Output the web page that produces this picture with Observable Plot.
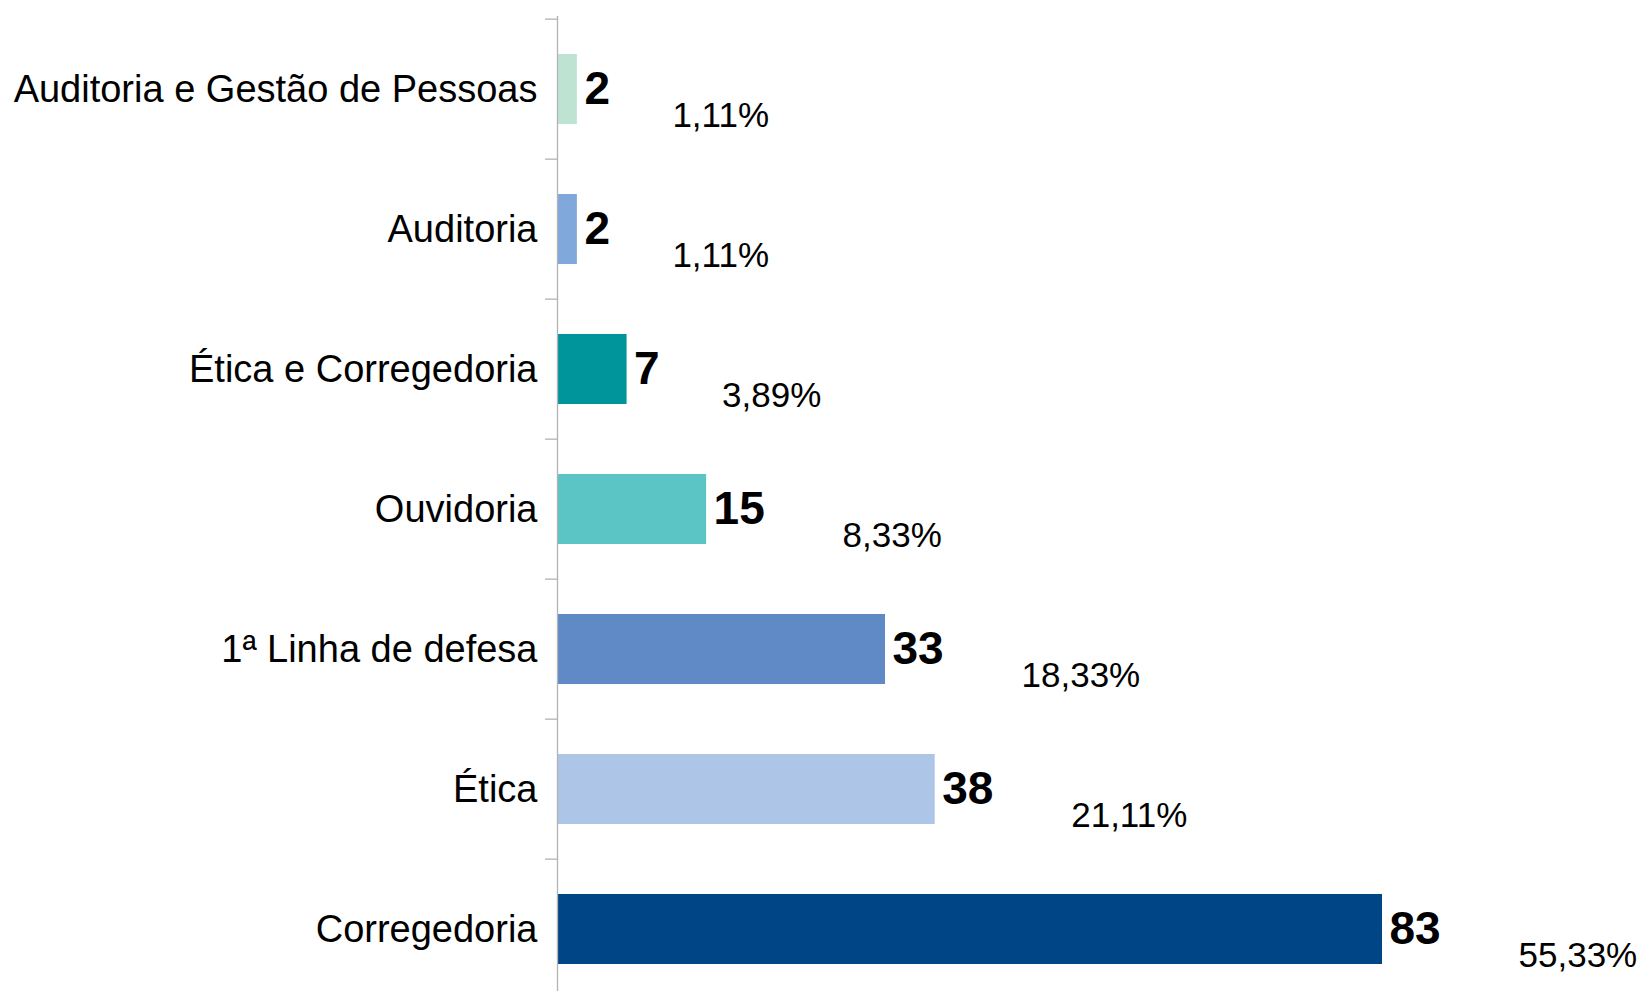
<!DOCTYPE html>
<html>
<head>
<meta charset="utf-8">
<script src="https://cdn.jsdelivr.net/npm/d3@7"></script>
<script src="https://cdn.jsdelivr.net/npm/@observablehq/plot@0.6"></script>
<style>
  html, body { margin: 0; padding: 0; background: #ffffff; overflow: hidden; }
  #chart svg { display: block; }
</style>
</head>
<body>
<div id="chart"></div>
<script>
const categories = [
  "Auditoria e Gestão de Pessoas",
  "Auditoria",
  "Ética e Corregedoria",
  "Ouvidoria",
  "1ª Linha de defesa",
  "Ética",
  "Corregedoria"
];
const values = [2, 2, 7, 15, 33, 38, 83];
const percents = ["1,11%", "1,11%", "3,89%", "8,33%", "18,33%", "21,11%", "55,33%"];
const colors = ["#bfe3d3", "#80a8da", "#00959a", "#5bc5c6", "#5f8ac6", "#adc5e7", "#004586"];

const data = categories.map((c, i) => ({category: c, value: values[i], pct: percents[i], color: colors[i]}));

const W = 1639, H = 991;
const yTop = 16, yBottom = 1001;
const step = (yBottom - yTop) / categories.length;

const plot = Plot.plot({
  width: W,
  height: H,
  marginLeft: 557,
  marginRight: 88,
  marginTop: yTop,
  marginBottom: 0,
  style: {fontFamily: "'Liberation Sans', Arial, sans-serif", background: "#ffffff", color: "#000000"},
  x: {domain: [0, 100], axis: null},
  y: {domain: categories, range: [yTop, yBottom], paddingInner: 0.5, paddingOuter: 0.25},
  color: {type: "identity"},
  marks: [
    Plot.barX(data, {x: "value", y: "category", fill: "color"}),
    Plot.ruleX([0], {stroke: "#b3b3b3", strokeWidth: 1.3}),
    Plot.axisY({tickSize: 12, tickFormat: () => "", dy: -step / 2, stroke: "#b3b3b3", strokeWidth: 1.3, label: null}),
    Plot.axisY({tickSize: 0, tickPadding: 20, fontSize: 38, label: null, fill: "#000000"}),
    Plot.text(data, {x: "value", y: "category", text: d => String(d.value), textAnchor: "start", dx: 7, fontSize: 46, fontWeight: "bold", fill: "#000000"}),
    Plot.text(data.filter(d => String(d.value).length === 1), {x: "value", y: "category", text: "pct", textAnchor: "start", dx: 95, dy: 26, fontSize: 35, fill: "#000000", ariaLabel: "pct"}),
    Plot.text(data.filter(d => String(d.value).length === 2), {x: "value", y: "category", text: "pct", textAnchor: "start", dx: 136, dy: 26, fontSize: 35, fill: "#000000", ariaLabel: "pct"})
  ]
});

d3.select(plot).selectAll('g[aria-label="pct"]').attr("letter-spacing", "-1.4px");
document.getElementById("chart").appendChild(plot);
</script>
</body>
</html>
